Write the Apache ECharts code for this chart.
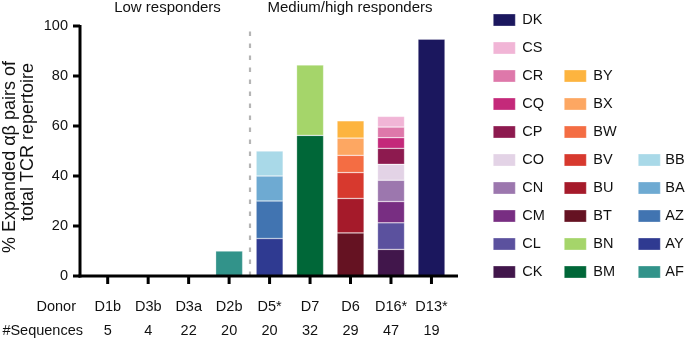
<!DOCTYPE html>
<html>
<head>
<meta charset="utf-8">
<script src="https://cdn.jsdelivr.net/npm/echarts@6/dist/echarts.min.js"></script>
<style>html,body{margin:0;padding:0;background:#fff}#c{width:685px;height:339px}</style>
</head>
<body>
<div id="c"></div>
<script>
// ---- data ----
const donors = ['D1b', 'D3b', 'D3a', 'D2b', 'D5*', 'D7', 'D6', 'D16*', 'D13*'];
const sequenceCounts = [5, 4, 22, 20, 20, 32, 29, 47, 19];
const yTicks = [0, 20, 40, 60, 80, 100];

const segmentNames  = ['AF', 'AY', 'AZ', 'BA', 'BB', 'BM', 'BN', 'BT', 'BU', 'BV', 'BW', 'BX', 'BY',
                       'CK', 'CL', 'CM', 'CN', 'CO', 'CP', 'CQ', 'CR', 'CS', 'DK'];
const segmentDonors = ['D2b', 'D5*', 'D5*', 'D5*', 'D5*', 'D7', 'D7', 'D6', 'D6', 'D6', 'D6', 'D6', 'D6',
                       'D16*', 'D16*', 'D16*', 'D16*', 'D16*', 'D16*', 'D16*', 'D16*', 'D16*', 'D13*'];
const segmentValues = [10, 15, 15, 10, 10, 56.25, 28.13, 17.24, 13.79, 10.34, 6.9, 6.9, 6.9,
                       10.64, 10.64, 8.51, 8.51, 6.38, 6.38, 4.26, 4.26, 4.26, 94.74];

const legendCol1 = ['DK', 'CS', 'CR', 'CQ', 'CP', 'CO', 'CN', 'CM', 'CL', 'CK'];
const legendCol2 = ['BY', 'BX', 'BW', 'BV', 'BU', 'BT', 'BN', 'BM'];
const legendCol3 = ['BB', 'BA', 'AZ', 'AY', 'AF'];

const groupDivider = 3.5; // between D2b and D5*
const groupTitles = ['Low responders', 'Medium/high responders'];

// ---- styles ----
const colors = {
  DK: '#1b175e', CS: '#f1b5d6', CR: '#de78aa', CQ: '#c4297a', CP: '#8d1a4f', CO: '#e3d3e6',
  CN: '#9c77ae', CM: '#782e82', CL: '#5b519e', CK: '#41164b',
  BY: '#fdb43f', BX: '#fda762', BW: '#f46d43', BV: '#d7392e', BU: '#a51a2a', BT: '#651222',
  BN: '#a5d56a', BM: '#006738',
  BB: '#a9d9e8', BA: '#6eaad2', AZ: '#4174b1', AY: '#2f3a91', AF: '#32938a'
};
const FONT = '"Liberation Sans", Arial, Helvetica, sans-serif';
const TXT = '#111';

const chart = echarts.init(document.getElementById('c'));

const barSeries = segmentNames.map((n, i) => ({
  type: 'bar',
  name: n,
  stack: 'total',
  xAxisIndex: 0,
  yAxisIndex: 0,
  barWidth: 27,
  data: donors.map(d => d === segmentDonors[i] ? segmentValues[i] : null),
  itemStyle: { color: colors[n], borderColor: 'rgba(255,255,255,0.45)', borderWidth: 0.6 },
  emphasis: { disabled: true },
  animation: false
}));

// helper axes (grid 1): value x axis aligned to category index
const bandPx = 40.47, firstPx = 107.7, leftPx = 80, rightPx = 458;
const xMin = (leftPx - firstPx) / bandPx;
const xMax = (rightPx - firstPx) / bandPx;

// axis lines + ticks drawn through grid 1's scales
const axesSeries = {
  type: 'custom',
  name: '_axes',
  xAxisIndex: 1,
  yAxisIndex: 1,
  clip: false,
  silent: true,
  z: 5,
  animation: false,
  data: [[0, 0]],
  renderItem: (params, api) => {
    const ls = { stroke: '#000', lineWidth: 3, fill: null };
    const children = [];
    const p0 = api.coord([xMin, yTicks[0]]);
    const p1 = api.coord([xMin, yTicks[yTicks.length - 1]]);
    const p2 = api.coord([xMax, yTicks[0]]);
    children.push({ type: 'line', shape: { x1: p0[0], y1: p0[1] + 1.5, x2: p1[0], y2: p1[1] - 1 }, style: ls });
    yTicks.forEach(t => {
      const p = api.coord([xMin, t]);
      children.push({ type: 'line', shape: { x1: p[0] - 7, y1: p[1], x2: p[0], y2: p[1] }, style: ls });
    });
    children.push({ type: 'line', shape: { x1: p0[0] - 1.5, y1: p0[1], x2: p2[0], y2: p2[1] }, style: ls });
    donors.forEach((d, i) => {
      const p = api.coord([i, yTicks[0]]);
      children.push({ type: 'line', shape: { x1: p[0], y1: p[1], x2: p[0], y2: p[1] + 8 }, style: ls });
    });
    return { type: 'group', children: children };
  }
};

const dividerSeries = {
  type: 'line',
  name: '_divider',
  xAxisIndex: 1,
  yAxisIndex: 1,
  data: [[0, 0]],
  showSymbol: false,
  symbolSize: 0,
  lineStyle: { opacity: 0 },
  animation: false,
  markLine: {
    silent: true,
    symbol: 'none',
    animation: false,
    label: { show: false },
    lineStyle: { color: '#b5b5b5', type: [4.5, 7.5], width: 2.2 },
    data: [[{ coord: [groupDivider, 0] }, { coord: [groupDivider, 100] }]]
  }
};

function legendAt(list, left, top, gap) {
  return {
    data: list,
    orient: 'vertical',
    left: left,
    top: top,
    padding: 0,
    itemWidth: 22,
    itemHeight: 12,
    itemGap: 13,
    icon: 'rect',
    selectedMode: false,
    textStyle: { fontFamily: FONT, fontSize: 14.5, color: TXT, lineHeight: 15, padding: [0, 0, 0, gap] },
    itemStyle: { borderWidth: 0.6, borderColor: 'rgba(255,255,255,0.5)' }
  };
}

const option = {
  animation: false,
  backgroundColor: '#fff',
  textStyle: { fontFamily: FONT },
  grid: [
    { left: 87.5, width: 9 * bandPx, top: 26, bottom: 63 },
    { left: leftPx, width: rightPx - leftPx, top: 26, bottom: 63 }
  ],
  legend: [
    legendAt(legendCol1, 493, 12.5, 2),
    legendAt(legendCol2, 564, 12.5 + 2 * 28, 2),
    legendAt(legendCol3, 638, 12.5 + 5 * 28, 0)
  ],
  xAxis: [
    {
      type: 'category',
      gridIndex: 0,
      data: donors,
      boundaryGap: true,
      axisLine: { show: false },
      axisTick: { show: false },
      axisLabel: {
        margin: 19,
        interval: 0,
        formatter: (v, i) => '{a|' + v + '}\n{b|' + sequenceCounts[i] + '}',
        rich: {
          a: { fontFamily: FONT, fontSize: 14.5, color: TXT, lineHeight: 24 },
          b: { fontFamily: FONT, fontSize: 14.5, color: TXT, lineHeight: 24 }
        }
      },
      splitLine: { show: false }
    },
    {
      type: 'value',
      gridIndex: 1,
      min: xMin,
      max: xMax,
      axisLine: { show: false, onZero: false },
      axisTick: { show: false },
      axisLabel: { show: false },
      splitLine: { show: false }
    }
  ],
  yAxis: [
    { type: 'value', gridIndex: 0, min: 0, max: 100, interval: 20, show: false, splitLine: { show: false } },
    {
      type: 'value',
      gridIndex: 1,
      min: yTicks[0],
      max: yTicks[yTicks.length - 1],
      interval: 20,
      axisLine: { show: false, onZero: false },
      axisTick: { show: false },
      axisLabel: { margin: 12, fontFamily: FONT, fontSize: 14.5, color: TXT },
      splitLine: { show: false }
    }
  ],
  graphic: [
    { type: 'text', x: 167.5, y: 8, style: { text: groupTitles[0], font: '15px ' + FONT, fill: TXT, textAlign: 'center', textVerticalAlign: 'middle' } },
    { type: 'text', x: 350, y: 8, style: { text: groupTitles[1], font: '15px ' + FONT, fill: TXT, textAlign: 'center', textVerticalAlign: 'middle' } },
    { type: 'text', x: 76, y: 307, style: { text: 'Donor', font: '14.5px ' + FONT, fill: TXT, textAlign: 'right', textVerticalAlign: 'middle' } },
    { type: 'text', x: 83, y: 331, style: { text: '#Sequences', font: '14.5px ' + FONT, fill: TXT, textAlign: 'right', textVerticalAlign: 'middle' } },
    { type: 'text', x: 10, y: 157, rotation: Math.PI / 2, style: { text: '% Expanded \u03b1\u03b2 pairs of', font: '18px ' + FONT, fill: TXT, textAlign: 'center', textVerticalAlign: 'middle' } },
    { type: 'text', x: 28, y: 142, rotation: Math.PI / 2, style: { text: 'total TCR repertoire', font: '18px ' + FONT, fill: TXT, textAlign: 'center', textVerticalAlign: 'middle' } }
  ],
  series: barSeries.concat([dividerSeries, axesSeries])
};

chart.setOption(option);
</script>
</body>
</html>
